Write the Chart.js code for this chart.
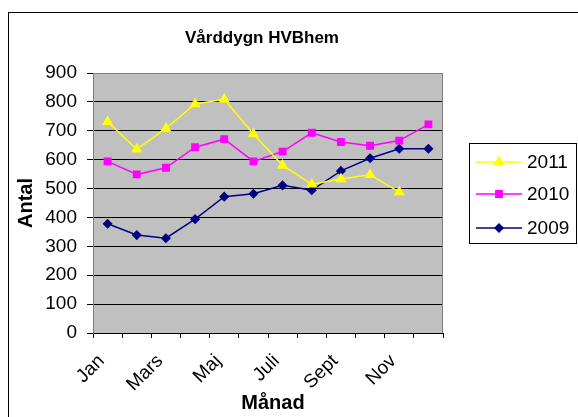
<!DOCTYPE html>
<html>
<head>
<meta charset="utf-8">
<script src="https://cdn.jsdelivr.net/npm/chart.js@4"></script>
<style>
  html, body { margin: 0; padding: 0; background: #fff; overflow: hidden; }
  #wrap { width: 578px; height: 417px; position: relative; }
</style>
</head>
<body>
<div id="wrap"><canvas id="vard_chart" width="578" height="417"></canvas></div>
<script>
// Data
const months = ['Jan', 'Feb', 'Mars', 'April', 'Maj', 'Juni', 'Juli', 'Aug', 'Sept', 'Okt', 'Nov', 'Dec'];
const yTicks = [0, 100, 200, 300, 400, 500, 600, 700, 800, 900];
const vard2011 = [731, 636, 708, 793, 809, 689, 580, 515, 533, 548, 488, null];
const vard2010 = [594, 549, 572, 643, 671, 594, 628, 693, 661, 648, 666, 722];
const vard2009 = [378, 339, 328, 394, 472, 482, 511, 494, 561, 605, 638, 638];

const FONT = 'Arial, "Liberation Sans", sans-serif';

// grey plot area, outer frame, title, axis titles and legend
const decor = {
    id: 'decor',
    beforeDraw(chart) {
        const ctx = chart.ctx;
        const a = chart.chartArea;
        ctx.save();
        ctx.fillStyle = '#C0C0C0';
        ctx.fillRect(a.left, a.top, a.right - a.left, a.bottom - a.top);
        ctx.restore();
    },
    afterDraw(chart) {
        const ctx = chart.ctx;
        const a = chart.chartArea;
        ctx.save();
        // outer frame (runs off the picture on right and bottom)
        ctx.strokeStyle = '#000';
        ctx.lineWidth = 1;
        ctx.strokeRect(8.5, 12.5, 700, 500);

        // plot border right/top
        ctx.strokeStyle = '#808080';
        ctx.beginPath();
        ctx.moveTo(a.left, a.top + 0.5);
        ctx.lineTo(a.right - 0.5, a.top + 0.5);
        ctx.lineTo(a.right - 0.5, a.bottom);
        ctx.stroke();

        ctx.fillStyle = '#000';
        ctx.textAlign = 'center';
        ctx.textBaseline = 'middle';
        ctx.font = 'bold 17px ' + FONT;
        ctx.fillText('Vårddygn HVBhem', 262, 38);
        ctx.font = 'bold 20px ' + FONT;
        ctx.fillText('Månad', 273, 403);
        ctx.translate(26, 203);
        ctx.rotate(-Math.PI / 2);
        ctx.fillText('Antal', 0, 0);
        ctx.restore();

        // legend
        ctx.save();
        ctx.fillStyle = '#fff';
        ctx.fillRect(469, 143, 108, 101);
        ctx.strokeStyle = '#000';
        ctx.lineWidth = 1;
        ctx.strokeRect(469.5, 143.5, 107, 100);
        const rows = [162, 194, 228];
        chart.data.datasets.forEach((ds, i) => {
            const y = rows[i];
            ctx.strokeStyle = ds.borderColor;
            ctx.lineWidth = 1.5;
            ctx.beginPath();
            ctx.moveTo(476, y);
            ctx.lineTo(522, y);
            ctx.stroke();
            ctx.fillStyle = ds.borderColor;
            Chart.helpers.drawPoint(ctx, {
                pointStyle: ds.pointStyle,
                radius: ds.pointRadius,
                borderWidth: 1
            }, 499, y);
            ctx.fillStyle = '#000';
            ctx.font = '19px ' + FONT;
            ctx.textAlign = 'left';
            ctx.textBaseline = 'middle';
            ctx.fillText(ds.label, 527, y + 1);
        });
        ctx.restore();
    }
};

function makeSet(label, values, color, style, radius) {
    return {
        label: label,
        data: values,
        borderColor: color,
        backgroundColor: color,
        pointBackgroundColor: color,
        pointBorderColor: color,
        pointStyle: style,
        pointRadius: radius,
        pointHoverRadius: radius,
        borderWidth: 1.5,
        tension: 0,
        spanGaps: false
    };
}

const ctx = document.getElementById('vard_chart').getContext('2d');
const vardChart = new Chart(ctx, {
    type: 'line',
    data: {
        labels: months,
        datasets: [
            makeSet('2011', vard2011, '#FFFF00', 'triangle', 5),
            makeSet('2010', vard2010, '#FF00FF', 'rect', 4.5),
            makeSet('2009', vard2009, '#000080', 'rectRot', 4)
        ]
    },
    options: {
        responsive: false,
        animation: false,
        events: [],
        layout: { padding: { left: 0, top: 73, right: 135, bottom: 0 } },
        scales: {
            x: {
                offset: true,
                afterFit: s => { s.height = 84; },
                grid: {
                    offset: true,
                    drawOnChartArea: false,
                    color: '#000',
                    tickLength: 5
                },
                border: { color: '#000' },
                ticks: {
                    autoSkip: false,
                    maxRotation: 45,
                    minRotation: 45,
                    padding: 12,
                    labelOffset: -6,
                    color: '#000',
                    font: { family: FONT, size: 19 },
                    callback: function (v, i) { return i % 2 === 0 ? months[i] : ''; }
                }
            },
            y: {
                min: yTicks[0],
                max: yTicks[yTicks.length - 1],
                afterFit: s => { s.width = 93; },
                afterBuildTicks: s => { s.ticks = yTicks.map(v => ({ value: v })); },
                grid: {
                    color: c => (c.tick && c.tick.value === 900) ? '#808080' : '#000',
                    tickColor: '#000',
                    tickLength: 6
                },
                border: { color: '#808080' },
                ticks: {
                    color: '#000',
                    padding: 10,
                    font: { family: FONT, size: 19 }
                }
            }
        },
        plugins: {
            legend: { display: false },
            title: { display: false },
            tooltip: { enabled: false }
        }
    },
    plugins: [decor]
});
</script>
</body>
</html>
